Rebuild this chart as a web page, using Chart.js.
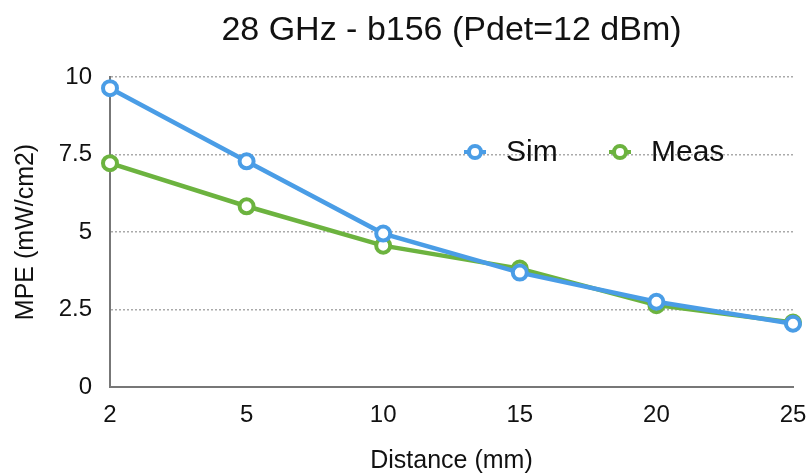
<!DOCTYPE html>
<html>
<head>
<meta charset="utf-8">
<script src="https://cdn.jsdelivr.net/npm/chart.js@4"></script>
<style>
  html, body { margin: 0; padding: 0; background: #fff; }
  #wrap { width: 811px; height: 474px; }
</style>
</head>
<body>
<div id="wrap"><canvas id="chart" width="811" height="474"></canvas></div>
<script>
// distances (mm)
var distances = ['2', '5', '10', '15', '20', '25'];
// MPE values (mW/cm2)
var sim  = [9.64, 7.28, 4.95, 3.69, 2.75, 2.04];
var meas = [7.22, 5.83, 4.56, 3.82, 2.64, 2.08];
var yTicks = [0, 2.5, 5, 7.5, 10];

var bleu = '#4a9de6';
var vert = '#6cb33f';
var police = "'Liberation Sans', Arial, sans-serif";

// titre centré sur la zone du graphe + légende dans le graphe
var decor = {
  id: 'decor',
  afterDraw: function(chart) {
    var ctx = chart.ctx;
    var a = chart.chartArea;
    ctx.save();
    ctx.fillStyle = '#111';
    ctx.font = '34px ' + police;
    ctx.textAlign = 'center';
    ctx.textBaseline = 'alphabetic';
    ctx.fillText('28 GHz - b156 (Pdet=12 dBm)', (a.left + a.right) / 2, 40);

    var items = [
      {txt: 'Sim', col: bleu, x: 475},
      {txt: 'Meas', col: vert, x: 620}
    ];
    var y = 152;
    ctx.font = '30px ' + police;
    ctx.textAlign = 'left';
    ctx.textBaseline = 'middle';
    items.forEach(function(it) {
      ctx.strokeStyle = it.col;
      ctx.lineWidth = 4;
      ctx.beginPath();
      ctx.moveTo(it.x - 11, y); ctx.lineTo(it.x + 11, y);
      ctx.stroke();
      ctx.beginPath();
      ctx.arc(it.x, y, 6, 0, Math.PI * 2);
      ctx.fillStyle = '#fff';
      ctx.fill();
      ctx.stroke();
      ctx.fillStyle = '#111';
      ctx.fillText(it.txt, it.x + 31, y + 1);
    });
    ctx.restore();
  }
};

new Chart(document.getElementById('chart'), {
  type: 'line',
  data: {
    labels: distances,
    datasets: [
      {
        label: 'Sim',
        data: sim,
        borderColor: bleu,
        borderWidth: 4.5,
        pointRadius: 7,
        pointBorderWidth: 4,
        pointBackgroundColor: '#fff',
        pointBorderColor: bleu,
        tension: 0
      },
      {
        label: 'Meas',
        data: meas,
        borderColor: vert,
        borderWidth: 4.5,
        pointRadius: 7,
        pointBorderWidth: 4,
        pointBackgroundColor: '#fff',
        pointBorderColor: vert,
        tension: 0
      }
    ]
  },
  options: {
    responsive: false,
    animation: false,
    layout: { padding: { top: 77, right: 0, bottom: 0, left: 0 } },
    plugins: {
      legend: { display: false },
      title: { display: false },
      tooltip: { enabled: false }
    },
    scales: {
      x: {
        offset: false,
        grid: { display: false, drawTicks: false },
        border: { display: true, color: '#777', width: 2 },
        ticks: { color: '#111', font: { family: police, size: 24 }, padding: 14, maxRotation: 0 },
        title: { display: true, text: 'Distance (mm)', color: '#111', font: { family: police, size: 25, lineHeight: 1 }, padding: 0 },
        afterFit: function(s) { s.height = 87; s.paddingRight = 18; s.paddingLeft = 0; }
      },
      y: {
        min: 0,
        max: 10,
        afterBuildTicks: function(s) { s.ticks = yTicks.map(function(v) { return {value: v}; }); },
        grid: {
          drawTicks: false,
          color: function(c) { return c.tick && c.tick.value === 0 ? 'rgba(0,0,0,0)' : '#aaa'; },
          lineWidth: 1.5
        },
        border: { display: true, color: '#777', width: 2, dash: [2, 2] },
        ticks: { color: '#111', font: { family: police, size: 24 }, padding: 18 },
        title: { display: true, text: 'MPE (mW/cm2)', color: '#111', font: { family: police, size: 25 }, padding: { top: 11, bottom: 0 } },
        afterFit: function(s) { s.width = 110; }
      }
    }
  },
  plugins: [decor]
});
</script>
</body>
</html>
